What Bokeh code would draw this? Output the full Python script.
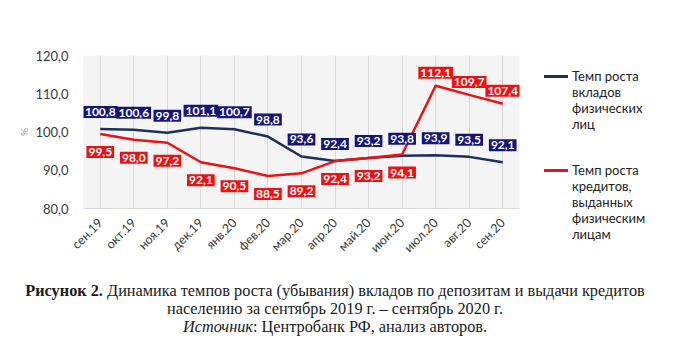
from math import pi
from bokeh.plotting import figure
from bokeh.models import ColumnDataSource, FixedTicker, Range1d, Div
from bokeh.layouts import column, row
from bokeh.core.properties import value
from bokeh.embed import file_html
from bokeh.resources import INLINE

months = ["сен.19", "окт.19", "ноя.19", "дек.19", "янв.20", "фев.20", "мар.20",
          "апр.20", "май.20", "июн.20", "июл.20", "авг.20", "сен.20"]
deposits = [100.8, 100.6, 99.8, 101.1, 100.7, 98.8, 93.6, 92.4, 93.2, 93.8, 93.9, 93.5, 92.1]
credits = [99.5, 98.0, 97.2, 92.1, 90.5, 88.5, 89.2, 92.4, 93.2, 94.1, 112.1, 109.7, 107.4]
y_ticks = [80, 90, 100, 110, 120]
legend_dep = ["Темп роста", "вкладов", "физических", "лиц"]
legend_cred = ["Темп роста", "кредитов,", "выданных", "физическим", "лицам"]

BLUE_LINE = "#1b2f63"
BLUE_BOX = "#14147a"
RED = "#ee1111"
FONT = "Lato"


def fmt(v):
    return f"{v:.1f}".replace(".", ",")


src = ColumnDataSource(dict(
    m=months, dep=deposits, cred=credits,
    dep_lbl=[fmt(v) for v in deposits],
    cred_lbl=[fmt(v) for v in credits],
    cred_off=[-13 if v > 100 else 18 for v in credits],
))

p = figure(x_range=months, y_range=Range1d(80, 120),
           frame_width=436, frame_height=153,
           min_border_left=83, min_border_right=9, min_border_top=55, min_border_bottom=55,
           output_backend="svg", toolbar_location=None)
p.background_fill_color = "#f5f5f5"
p.border_fill_color = "white"
p.outline_line_color = None
p.ygrid.grid_line_color = None
p.xgrid.grid_line_color = "#d9d9d9"

p.yaxis.ticker = FixedTicker(ticks=y_ticks)
p.yaxis.major_label_overrides = {t: fmt(t) for t in y_ticks}
p.yaxis.axis_line_color = None
p.yaxis.major_tick_line_color = None
p.yaxis.minor_tick_line_color = None
p.yaxis.major_label_text_font = FONT
p.yaxis.major_label_text_font_size = "13px"
p.yaxis.major_label_text_color = "#3a3a3a"
p.yaxis.major_label_standoff = 9
p.yaxis.axis_label = "%"
p.yaxis.axis_label_text_font = FONT
p.yaxis.axis_label_text_font_size = "10px"
p.yaxis.axis_label_text_font_style = "normal"
p.yaxis.axis_label_text_color = "#909090"
p.yaxis.axis_label_standoff = 2

p.xaxis.major_label_orientation = pi / 4
p.xaxis.major_label_text_font = FONT
p.xaxis.major_label_text_font_size = "12.5px"
p.xaxis.major_label_text_color = "#3a3a3a"
p.xaxis.axis_line_color = "#d9d9d9"
p.xaxis.major_tick_line_color = None
p.xaxis.major_label_standoff = 6

p.line("m", "dep", source=src, line_color=BLUE_LINE, line_width=2.5)
p.line("m", "cred", source=src, line_color=RED, line_width=2.5)

p.text("m", "dep", text="dep_lbl", source=src, y_offset=-17,
       text_align="center", text_baseline="middle",
       text_font=value(FONT), text_font_style="bold", text_font_size="12px",
       text_color="white", background_fill_color=BLUE_BOX, padding=2)
p.text("m", "cred", text="cred_lbl", source=src, y_offset="cred_off",
       text_align="center", text_baseline="middle",
       text_font=value(FONT), text_font_style="bold", text_font_size="12px",
       text_color="white", background_fill_color=RED, padding=2)

legend_html = (
    '<div style="position:relative;width:164px;height:263px;font-family:Lato;'
    'font-size:13px;line-height:16px;color:#222222;">'
    f'<div style="position:absolute;left:16px;top:75px;width:24px;height:2.5px;background:{BLUE_LINE};"></div>'
    '<div style="position:absolute;left:44px;top:68px;white-space:nowrap;">' + "<br>".join(legend_dep) + '</div>'
    f'<div style="position:absolute;left:16px;top:169px;width:24px;height:2.5px;background:{RED};"></div>'
    '<div style="position:absolute;left:44px;top:162px;white-space:nowrap;">' + "<br>".join(legend_cred) + '</div>'
    '</div>'
)
legend_div = Div(text=legend_html, width=164, height=263, margin=(0, 0, 0, 0))

caption = Div(
    text=("<b>Рисунок 2.</b> Динамика темпов роста (убывания) вкладов по депозитам и выдачи кредитов<br>"
          "населению за сентябрь 2019 г. – сентябрь 2020 г.<br>"
          "<i>Источник</i>: Центробанк РФ, анализ авторов."),
    width=670, margin=(19, 0, 0, 0),
    styles={"font-family": "Liberation Serif", "font-size": "16.3px", "line-height": "18px",
            "text-align": "center", "color": "#1a1a1a", "width": "670px"},
)

layout = column(row(p, legend_div), caption)
open("out.html", "w").write(file_html(layout, INLINE))
